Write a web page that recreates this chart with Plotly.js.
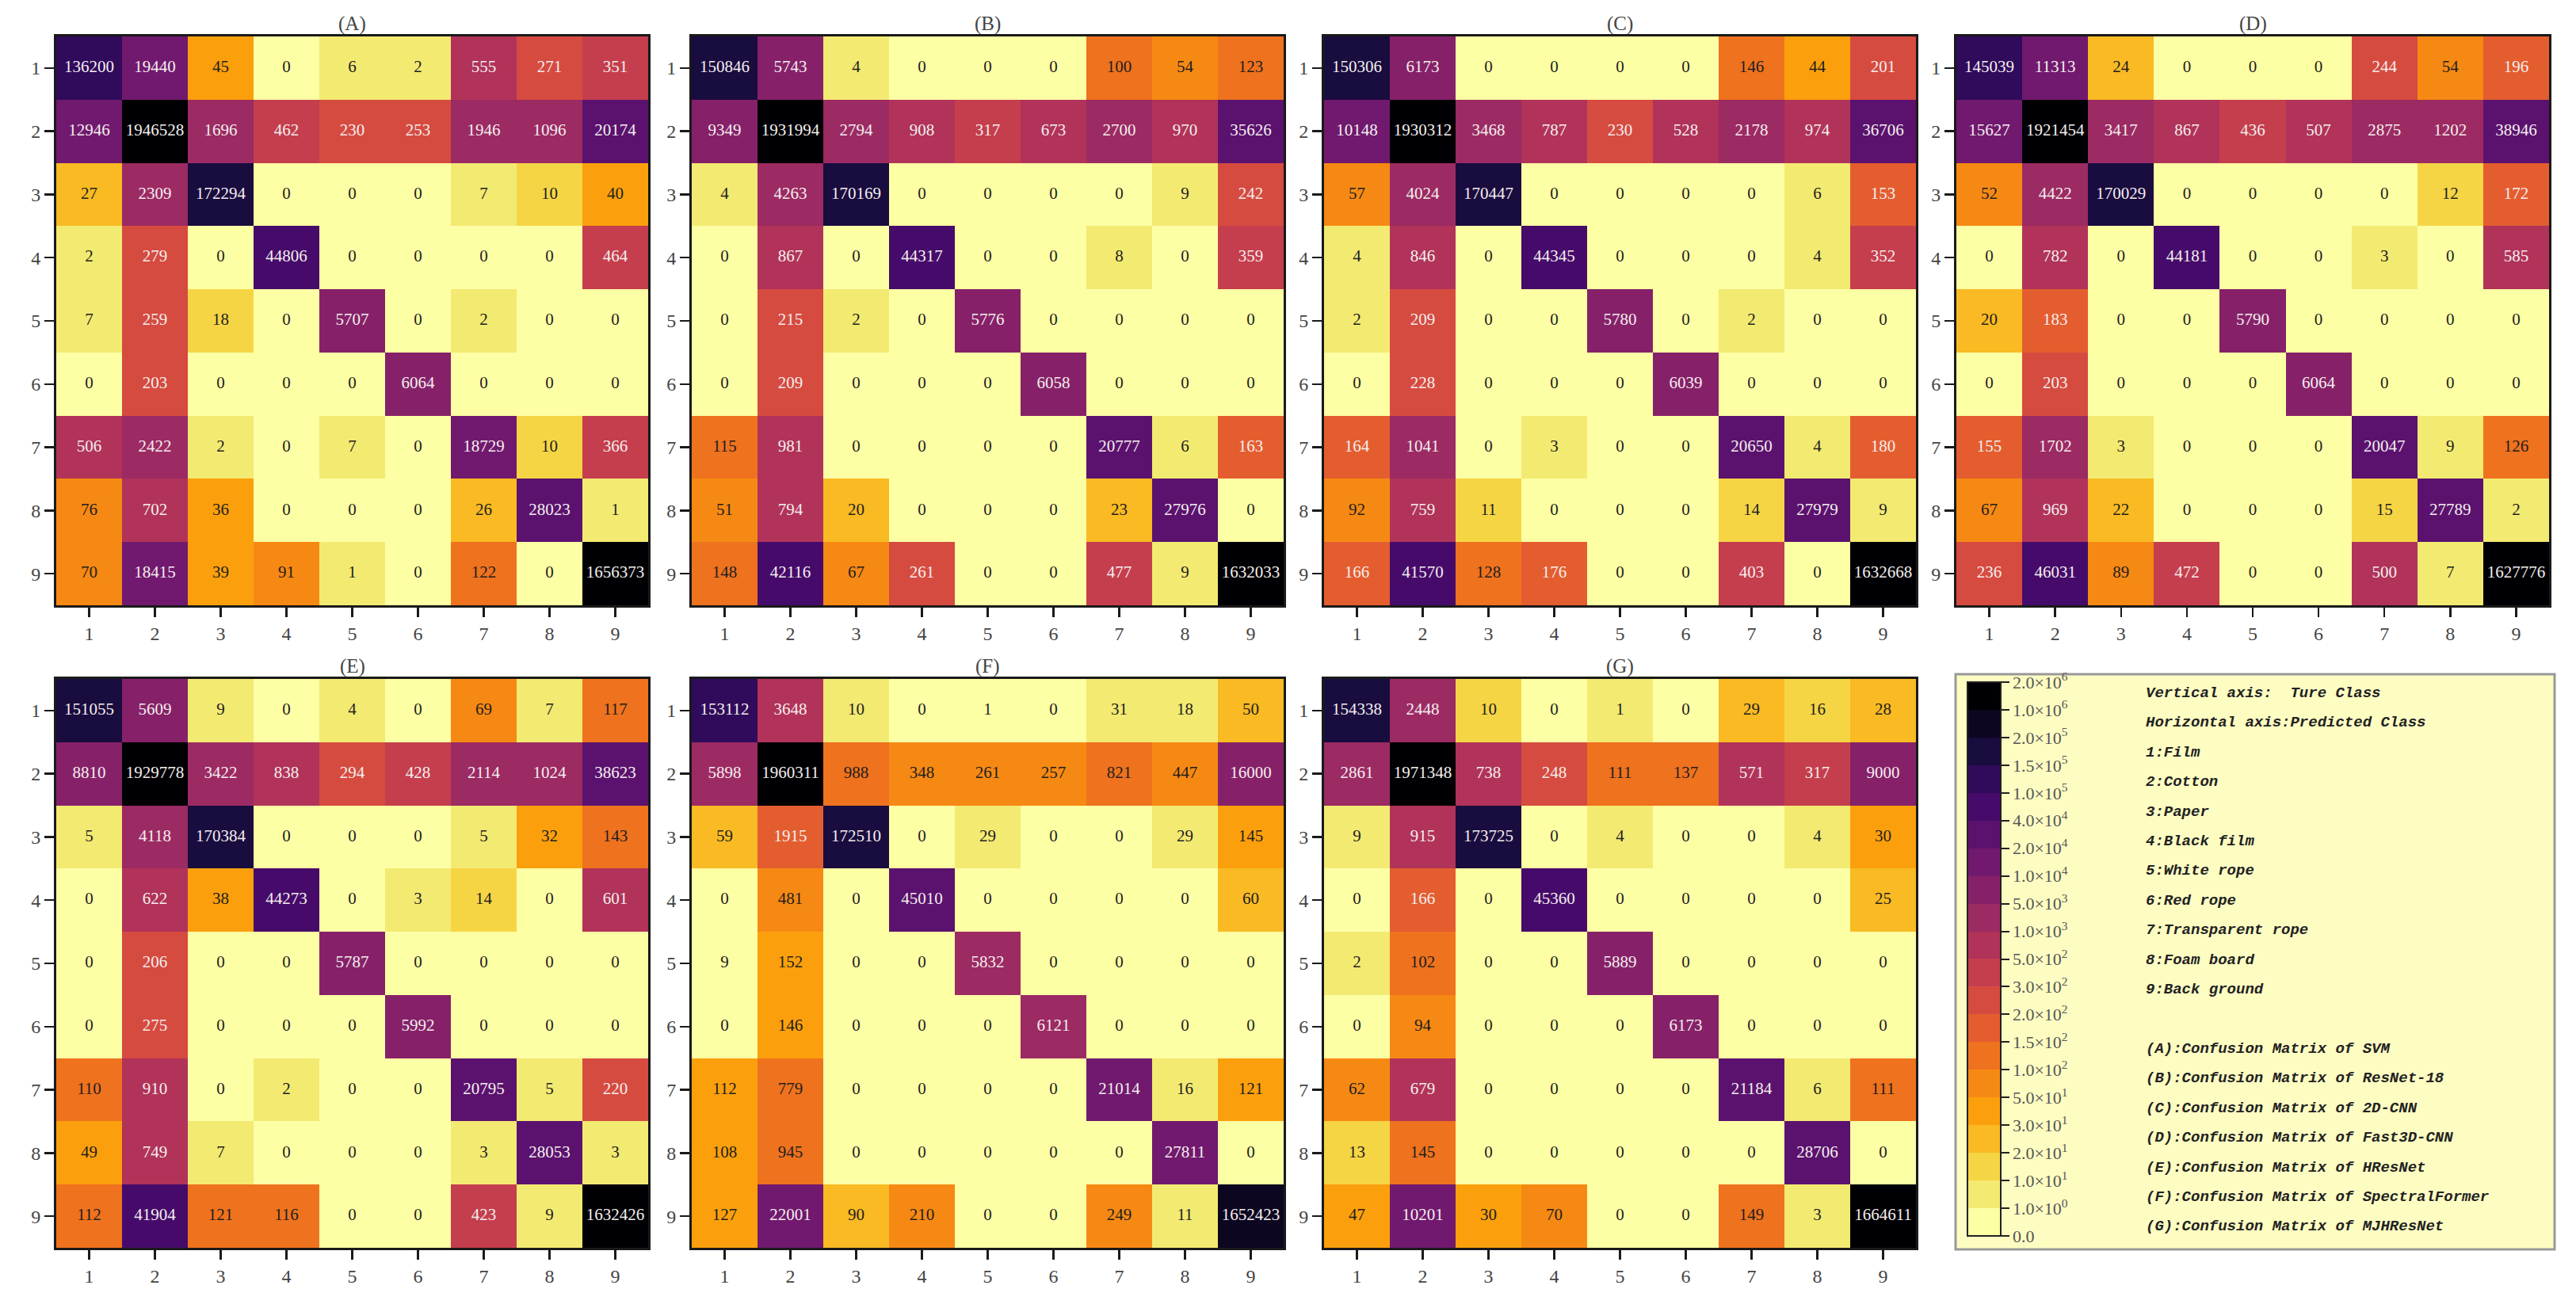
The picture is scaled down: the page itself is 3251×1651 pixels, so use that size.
<!DOCTYPE html>
<html>
<head>
<meta charset="utf-8">
<script src="https://cdn.plot.ly/plotly-3.0.1.min.js"></script>
<style>
  html, body { margin: 0; padding: 0; background: #fff; }
  #plotArea { width: 3251px; height: 1651px; }
</style>
</head>
<body>
<div id="plotArea"></div>
<script>
// class ids on both axes (1..9)
var classIds = [1, 2, 3, 4, 5, 6, 7, 8, 9];
var classNames = ["Film", "Cotton", "Paper", "Black film", "White rope", "Red rope",
                  "Transparent rope", "Foam board", "Back ground"];
var panelTags = ["(A)", "(B)", "(C)", "(D)", "(E)", "(F)", "(G)"];
var modelNames = ["SVM", "ResNet-18", "2D-CNN", "Fast3D-CNN", "HResNet", "SpectralFormer", "MJHResNet"];

// colour bins used by the colour bar (counts)
var bounds = [0, 1, 10, 20, 30, 50, 100, 150, 200, 300, 500, 1000, 5000, 10000, 20000,
              40000, 100000, 150000, 200000, 1000000, 2000000];
// panel (F) was coloured on its own scale in the source figure
var boundsF = [0, 10, 50, 100, 200, 500, 1000, 3000, 5000, 10000, 20000, 40000, 100000, 160000, 1000000, 1900000];
var levelsF = [0, 1, 3, 4, 5, 6, 7, 10, 11, 12, 13, 14, 16, 17, 18, 19];

// rows = true class, columns = predicted class
var cmSVM = [
  [136200, 19440, 45, 0, 6, 2, 555, 271, 351],
  [12946, 1946528, 1696, 462, 230, 253, 1946, 1096, 20174],
  [27, 2309, 172294, 0, 0, 0, 7, 10, 40],
  [2, 279, 0, 44806, 0, 0, 0, 0, 464],
  [7, 259, 18, 0, 5707, 0, 2, 0, 0],
  [0, 203, 0, 0, 0, 6064, 0, 0, 0],
  [506, 2422, 2, 0, 7, 0, 18729, 10, 366],
  [76, 702, 36, 0, 0, 0, 26, 28023, 1],
  [70, 18415, 39, 91, 1, 0, 122, 0, 1656373]
];
var cmResNet18 = [
  [150846, 5743, 4, 0, 0, 0, 100, 54, 123],
  [9349, 1931994, 2794, 908, 317, 673, 2700, 970, 35626],
  [4, 4263, 170169, 0, 0, 0, 0, 9, 242],
  [0, 867, 0, 44317, 0, 0, 8, 0, 359],
  [0, 215, 2, 0, 5776, 0, 0, 0, 0],
  [0, 209, 0, 0, 0, 6058, 0, 0, 0],
  [115, 981, 0, 0, 0, 0, 20777, 6, 163],
  [51, 794, 20, 0, 0, 0, 23, 27976, 0],
  [148, 42116, 67, 261, 0, 0, 477, 9, 1632033]
];
var cm2DCNN = [
  [150306, 6173, 0, 0, 0, 0, 146, 44, 201],
  [10148, 1930312, 3468, 787, 230, 528, 2178, 974, 36706],
  [57, 4024, 170447, 0, 0, 0, 0, 6, 153],
  [4, 846, 0, 44345, 0, 0, 0, 4, 352],
  [2, 209, 0, 0, 5780, 0, 2, 0, 0],
  [0, 228, 0, 0, 0, 6039, 0, 0, 0],
  [164, 1041, 0, 3, 0, 0, 20650, 4, 180],
  [92, 759, 11, 0, 0, 0, 14, 27979, 9],
  [166, 41570, 128, 176, 0, 0, 403, 0, 1632668]
];
var cmFast3DCNN = [
  [145039, 11313, 24, 0, 0, 0, 244, 54, 196],
  [15627, 1921454, 3417, 867, 436, 507, 2875, 1202, 38946],
  [52, 4422, 170029, 0, 0, 0, 0, 12, 172],
  [0, 782, 0, 44181, 0, 0, 3, 0, 585],
  [20, 183, 0, 0, 5790, 0, 0, 0, 0],
  [0, 203, 0, 0, 0, 6064, 0, 0, 0],
  [155, 1702, 3, 0, 0, 0, 20047, 9, 126],
  [67, 969, 22, 0, 0, 0, 15, 27789, 2],
  [236, 46031, 89, 472, 0, 0, 500, 7, 1627776]
];
var cmHResNet = [
  [151055, 5609, 9, 0, 4, 0, 69, 7, 117],
  [8810, 1929778, 3422, 838, 294, 428, 2114, 1024, 38623],
  [5, 4118, 170384, 0, 0, 0, 5, 32, 143],
  [0, 622, 38, 44273, 0, 3, 14, 0, 601],
  [0, 206, 0, 0, 5787, 0, 0, 0, 0],
  [0, 275, 0, 0, 0, 5992, 0, 0, 0],
  [110, 910, 0, 2, 0, 0, 20795, 5, 220],
  [49, 749, 7, 0, 0, 0, 3, 28053, 3],
  [112, 41904, 121, 116, 0, 0, 423, 9, 1632426]
];
var cmSpectralFormer = [
  [153112, 3648, 10, 0, 1, 0, 31, 18, 50],
  [5898, 1960311, 988, 348, 261, 257, 821, 447, 16000],
  [59, 1915, 172510, 0, 29, 0, 0, 29, 145],
  [0, 481, 0, 45010, 0, 0, 0, 0, 60],
  [9, 152, 0, 0, 5832, 0, 0, 0, 0],
  [0, 146, 0, 0, 0, 6121, 0, 0, 0],
  [112, 779, 0, 0, 0, 0, 21014, 16, 121],
  [108, 945, 0, 0, 0, 0, 0, 27811, 0],
  [127, 22001, 90, 210, 0, 0, 249, 11, 1652423]
];
var cmMJHResNet = [
  [154338, 2448, 10, 0, 1, 0, 29, 16, 28],
  [2861, 1971348, 738, 248, 111, 137, 571, 317, 9000],
  [9, 915, 173725, 0, 4, 0, 0, 4, 30],
  [0, 166, 0, 45360, 0, 0, 0, 0, 25],
  [2, 102, 0, 0, 5889, 0, 0, 0, 0],
  [0, 94, 0, 0, 0, 6173, 0, 0, 0],
  [62, 679, 0, 0, 0, 0, 21184, 6, 111],
  [13, 145, 0, 0, 0, 0, 0, 28706, 0],
  [47, 10201, 30, 70, 0, 0, 149, 3, 1664611]
];

var matrices = [cmSVM, cmResNet18, cm2DCNN, cmFast3DCNN, cmHResNet, cmSpectralFormer, cmMJHResNet];

// inferno_r sampled in 20 steps (light -> dark)
var palette = ["#fcffa4", "#f3ea72", "#f6d545", "#f9ba23", "#fba00c", "#f68913", "#ef721e",
               "#e45d2f", "#d64b40", "#c53e4d", "#b13359", "#9c2a63", "#862169", "#71196e",
               "#5b126e", "#460b6a", "#300a5b", "#190c3e", "#0c0620", "#000004"];

var W = 3251, H = 1651;
// panel boxes in pixels [left, right, top, bottom]
var boxes = [
  [71, 818, 46, 764], [873, 1620, 46, 764], [1671, 2418, 46, 764], [2469, 3217, 46, 764],
  [71, 818, 857, 1575], [873, 1620, 857, 1575], [1671, 2418, 857, 1575]
];

function levelOf(v, edges, levels) {
  var i = 0;
  while (i + 1 < edges.length && v >= edges[i + 1]) i++;
  if (levels) return levels[i];
  return Math.min(i, palette.length - 1);
}

var colorscale = [];
palette.forEach(function(c, k) {
  colorscale.push([k / palette.length, c]);
  colorscale.push([(k + 1) / palette.length, c]);
});

var cbVals = bounds.map(function(b, i) { return i - 0.5; });
var cbText = bounds.map(function(b) {
  if (b === 0) return "0.0";
  var e = Math.floor(Math.log10(b) + 1e-9);
  return (b / Math.pow(10, e)).toFixed(1) + "×10<sup>" + e + "</sup>";
});

var serif = "Liberation Serif, DejaVu Serif, serif";
var data = [];
var layout = {
  width: W, height: H,
  margin: {l: 0, r: 0, t: 0, b: 0},
  paper_bgcolor: "#ffffff",
  plot_bgcolor: "#ffffff",
  showlegend: false,
  annotations: [],
  shapes: []
};

matrices.forEach(function(m, p) {
  var n = p + 1;
  var xa = "x" + (n === 1 ? "" : n), ya = "y" + (n === 1 ? "" : n);
  var isF = p === 5;
  var z = m.map(function(row) {
    return row.map(function(v) { return isF ? levelOf(v, boundsF, levelsF) : levelOf(v, bounds); });
  });

  var hm = {
    type: "heatmap",
    x: classIds, y: classIds, z: z,
    xaxis: xa, yaxis: ya,
    zmin: -0.5, zmax: palette.length - 0.5,
    colorscale: colorscale,
    showscale: p === 0,
    hoverinfo: "skip"
  };
  if (p === 0) {
    hm.colorbar = {
      x: 2483 / W, xanchor: "left", xpad: 0,
      y: 1 - 861 / H, yanchor: "top", ypad: 0,
      len: 699, lenmode: "pixels",
      thickness: 42, thicknessmode: "pixels",
      outlinewidth: 2, outlinecolor: "#222",
      ticks: "outside", ticklen: 10, tickwidth: 2, tickcolor: "#222",
      tickmode: "array", tickvals: cbVals, ticktext: cbText,
      tickfont: {family: serif, size: 22, color: "#555"}
    };
  }
  data.push(hm);

  var tx = [], ty = [], tt = [], tc = [];
  m.forEach(function(row, r) {
    row.forEach(function(v, c) {
      tx.push(classIds[c]); ty.push(classIds[r]); tt.push(String(v));
      tc.push(z[r][c] >= 7 ? "#f4eeee" : "#1e1e1e");
    });
  });
  data.push({
    type: "scatter", mode: "text",
    x: tx, y: ty, text: tt,
    xaxis: xa, yaxis: ya,
    textfont: {family: serif, size: 21, color: tc},
    hoverinfo: "skip", cliponaxis: false
  });

  var b = boxes[p];
  var axCommon = {
    range: [0.5, 9.5], tickmode: "array", tickvals: classIds,
    ticks: "outside", ticklen: 12, tickwidth: 2.5, tickcolor: "#1a1a1a",
    showline: true, mirror: true, linewidth: 3, linecolor: "#1a1a1a",
    showgrid: false, zeroline: false, fixedrange: true,
    tickfont: {family: serif, size: 24, color: "#444"}
  };
  layout["xaxis" + (n === 1 ? "" : n)] = Object.assign({}, axCommon, {
    domain: [b[0] / W, b[1] / W], anchor: ya
  });
  layout["yaxis" + (n === 1 ? "" : n)] = Object.assign({}, axCommon, {
    domain: [1 - b[3] / H, 1 - b[2] / H], anchor: xa, range: [9.5, 0.5]
  });

  layout.annotations.push({
    xref: "paper", yref: "paper",
    x: (b[0] + b[1]) / 2 / W, y: 1 - b[2] / H,
    xanchor: "center", yanchor: "bottom", yshift: 0,
    text: panelTags[p], showarrow: false,
    font: {family: serif, size: 25, color: "#444"}
  });
});

// legend / key panel
layout.shapes.push({
  type: "rect", xref: "paper", yref: "paper", layer: "below",
  x0: 2468 / W, x1: 3224 / W, y0: 1 - 1577 / H, y1: 1 - 851 / H,
  fillcolor: "#fdfdc2", line: {color: "#999999", width: 3}
});

var keyLines = ["Vertical axis:\u00a0 Ture Class", "Horizontal axis:Predicted Class"];
classNames.forEach(function(c, i) { keyLines.push(classIds[i] + ":" + c); });
var keyY = [];
keyLines.forEach(function(t, i) { keyY.push(875 + 37.4 * i); });
panelTags.forEach(function(tag, i) {
  keyLines.push(tag + ":Confusion Matrix of " + modelNames[i]);
  keyY.push(1324 + 37.4 * i);
});
keyLines.forEach(function(t, i) {
  layout.annotations.push({
    xref: "paper", yref: "paper",
    x: 2706 / W, y: 1 - keyY[i] / H,
    xanchor: "left", yanchor: "middle",
    text: t, showarrow: false,
    font: {family: "Liberation Mono, DejaVu Sans Mono, monospace", size: 19,
           color: "#222222", weight: "bold", style: "italic"}
  });
});

Plotly.newPlot("plotArea", data, layout, {staticPlot: true});
</script>
</body>
</html>
